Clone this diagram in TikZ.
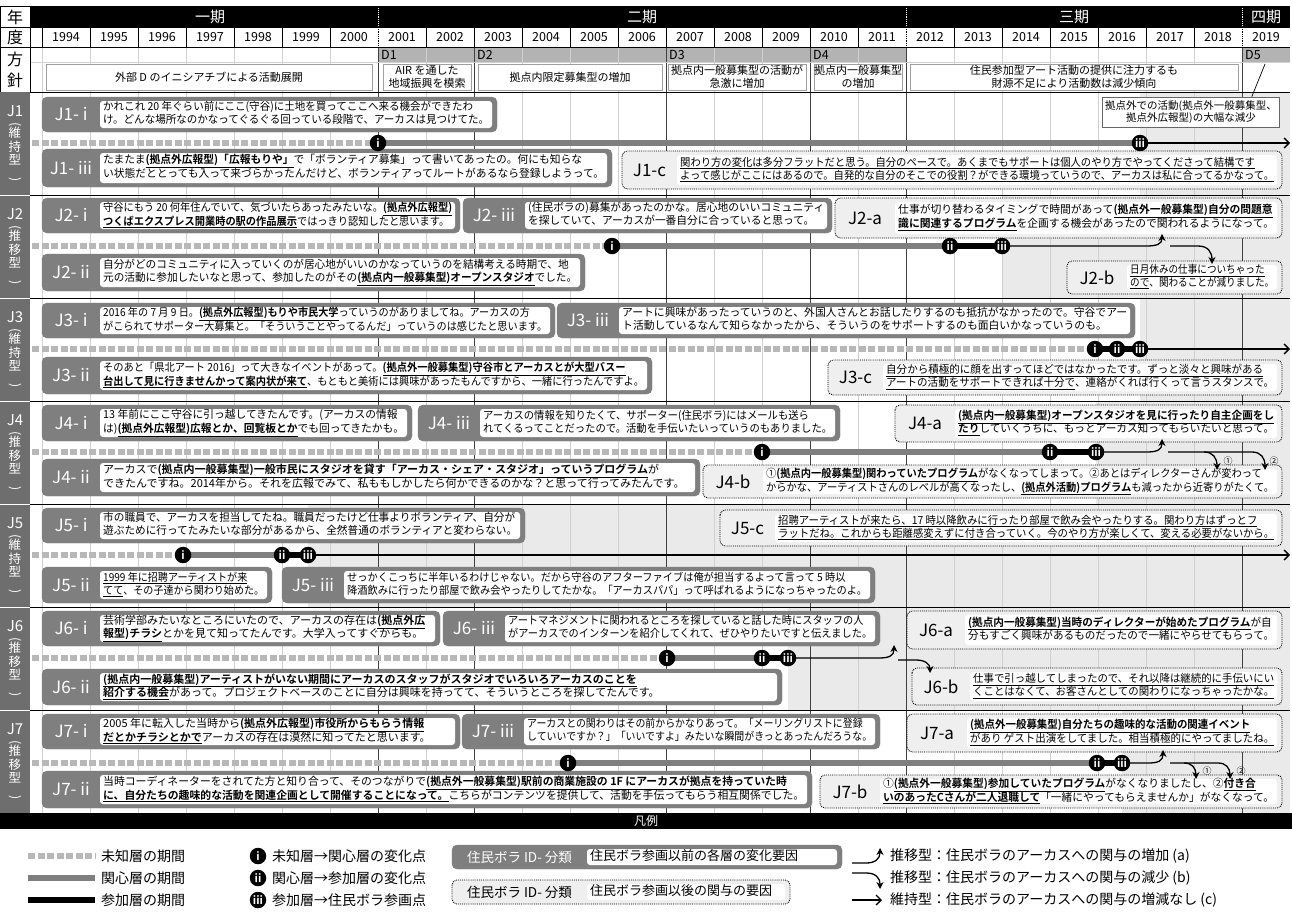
\documentclass[tikz,border=0pt]{standalone}
\usepackage{fontspec}
\setmainfont{Noto Sans CJK JP}[BoldFont={Noto Sans CJK JP Bold}]
\usepackage{graphicx}
\usetikzlibrary{arrows.meta}
\definecolor{qgray}{HTML}{7F7F7F}
\definecolor{qlight}{HTML}{EFEFEF}
\definecolor{shadec}{HTML}{EAEAEA}
\definecolor{labgray}{HTML}{6E6E6E}
\definecolor{drow}{HTML}{B3B3B3}
\definecolor{tdgray}{HTML}{B8B8B8}
\definecolor{gridc}{HTML}{D0D0D0}
\definecolor{boxline}{HTML}{A0A0A0}
\newsavebox\qsavebox
\newcommand\fitto[2]{\sbox\qsavebox{#2}\ifdim\wd\qsavebox>#1\relax\resizebox{#1}{\height}{\usebox\qsavebox}\else\usebox\qsavebox\fi}
\newcommand\UB[1]{\underline{\textbf{#1}}}
\newcommand\UL[1]{\underline{#1}}
\newcommand\twol[1]{\begin{tabular}{@{}l@{}}#1\end{tabular}}
% #1 s/d, #2 name, #3 x1, #4 y1, #5 x2, #6 y2, #7 label width, #8 label, #9 text
\newcommand\qbox[9]{%
  \pgfmathsetmacro\qmid{(#4+#6)/2}%
  \pgfmathsetmacro\qin{#3+#7}%
  \pgfmathsetmacro\qw{#5-5-\qin-6}%
  \path[q#1out] (#3,#4) rectangle (#5,#6);
  \path[qin] (\qin,#4+4) rectangle (#5-5,#6-4);
  \node[q#1lab] (#2l) at ({(#3+\qin)/2},\qmid) {#8};
  \node[qtxt,anchor=west] (#2) at (\qin+3,\qmid) {\fitto{\qw pt}{\twol{#9}}};
}
\newcommand\rowlab[4]{%
  \fill[labgray] (0,#2) rectangle (30,#2+103);
  \node[rowj] (#1) at (15,#2+19) {#3};
  \node[rowt,anchor=north] (#1t) at (15,#2+30) {\rotatebox{-90}{(}\\#4\\\rotatebox{-90}{)}};
}
\begin{document}
\begin{tikzpicture}[x=1pt,y=-1pt,
  qsout/.style={fill=qgray,draw=qgray,rounded corners=5pt},
  qdout/.style={fill=qlight,draw=black,densely dotted,line width=0.9pt,rounded corners=5pt},
  qin/.style={fill=white,rounded corners=3pt},
  qslab/.style={text=white,inner sep=0pt,font=\fontsize{17}{17}\selectfont},
  qdlab/.style={text=black,inner sep=0pt,font=\fontsize{17}{17}\selectfont},
  qtxt/.style={inner sep=0pt,font=\fontsize{11}{13}\selectfont},
  rowj/.style={text=white,inner sep=0pt,font=\fontsize{15}{15}\selectfont},
  rowt/.style={text=white,inner sep=0pt,align=center,font=\fontsize{12.5}{13.3}\selectfont},
  hdr/.style={inner sep=0pt,font=\fontsize{16}{16}\selectfont},
  per/.style={text=white,inner sep=0pt,font=\fontsize{15}{15}\selectfont},
  yr/.style={inner sep=0pt,font=\fontsize{12.5}{12.5}\selectfont},
  dl/.style={inner sep=0pt,anchor=west,font=\fontsize{12.5}{12.5}\selectfont},
  desc/.style={draw=boxline,line width=0.6pt,fill=white,inner sep=0pt,align=center,font=\fontsize{11}{12.5}\selectfont},
  gridl/.style={draw=gridc,line width=0.6pt},
  gridd/.style={draw=black!75,line width=0.9pt},
  sep/.style={draw=black,line width=1pt},
  tdash/.style={draw=tdgray,line width=6.5pt,dash pattern=on 7pt off 2.5pt},
  tgray/.style={draw=qgray,line width=6.5pt},
  tblack/.style={draw=black,line width=6.5pt},
  tthin/.style={draw=black,line width=1.3pt},
  endarr/.style={-{Straight Barb[length=5pt,width=10pt,line width=1.3pt]}},
  curarr/.style={-{Stealth[length=7pt,width=7pt]}},
  mk/.style={circle,fill=black,inner sep=0pt,minimum size=16.5pt,text=white,font=\fontsize{11}{11}\selectfont\bfseries},
  num/.style={inner sep=0pt,font=\fontsize{9}{9}\selectfont},
  lgt/.style={inner sep=0pt,anchor=west,font=\fontsize{14}{14}\selectfont},
  callout/.style={draw=black!60,line width=0.6pt,fill=white,align=center,inner sep=1pt,minimum width=177pt,minimum height=30pt,font=\fontsize{10.5}{12.5}\selectfont}
]
\useasboundingbox (0,0) rectangle (1292,913);
\fill[white] (0,0) rectangle (1292,913);

% ---------- row shading (after iii) ----------
\fill[shadec] (1140,92) rectangle (1290,195);
\fill[shadec] (1002,195) rectangle (1290,298);
\fill[shadec] (1140,298) rectangle (1290,401);
\fill[shadec] (1096,401) rectangle (1290,504);
\fill[shadec] (308,504) rectangle (1290,607);
\fill[shadec] (788,607) rectangle (1290,710);
\fill[shadec] (1122,710) rectangle (1290,813);

% ---------- header ----------
\fill[black] (30,6) rectangle (1290,27);
\fill[drow] (378,47) rectangle (906,62);
\fill[drow] (1242,47) rectangle (1290,62);
\foreach \k in {0,...,25} {\draw[gridl] ({42+48*\k},47) -- ({42+48*\k},813);}
\foreach \k in {0,...,25} {\draw[black,line width=0.6pt] ({42+48*\k},27) -- ({42+48*\k},47);}
\foreach \x in {378,906,1242} {\fill[white] (\x-1.5,27.5) rectangle (\x+1.5,46.5);
  \draw[black,line width=0.8pt,densely dotted] (\x,27) -- (\x,47);
  \draw[white,line width=0.9pt,densely dotted] (\x,6) -- (\x,27);}
\foreach \x in {378,474,666,810,906,1242} {\draw[gridd] (\x,47) -- (\x,813);}
\draw[black,line width=1pt] (0,6) -- (1290,6);
\draw[black,line width=0.8pt] (0,27) -- (1290,27);
\draw[black,line width=1pt] (0,47) -- (1290,47);
\draw[gridc,line width=0.6pt] (30,62) -- (1290,62);
\draw[black,line width=0.8pt] (0,6) rectangle (30,47);
\draw[black,line width=0.8pt] (0,47) rectangle (30,92);
\draw[black,line width=0.6pt] (30,27) -- (30,92);
\node[hdr] (hnen) at (15,17) {年};
\node[hdr] (hdo) at (15,37) {度};
\node[hdr] (hho) at (15,59) {方};
\node[hdr] (hshin) at (15,80) {針};
\node[per] (p1) at (210,17) {一期};
\node[per] (p2) at (642,17) {二期};
\node[per] (p3) at (1074,17) {三期};
\node[per] (p4) at (1266,17) {四期};
\foreach \y [count=\k from 0] in {1994,...,2019} {\node[yr] (y\y) at ({66+48*\k},37) {\y};}
\node[dl] (d1) at (381,55) {D1};
\node[dl] (d2) at (477,55) {D2};
\node[dl] (d3) at (669,55) {D3};
\node[dl] (d4) at (813,55) {D4};
\node[dl] (d5) at (1245,55) {D5};
\node[desc,minimum width=326pt,minimum height=26pt] (ds1) at (209,77) {外部 D のイニシアチブによる活動展開};
\node[desc,minimum width=88pt,minimum height=26pt] (ds2) at (427,77) {AIR を通した\\地域振興を模索};
\node[desc,minimum width=184pt,minimum height=26pt] (ds3) at (570,77) {拠点内限定募集型の増加};
\node[desc,minimum width=138pt,minimum height=26pt] (ds4) at (737,77) {拠点内一般募集型の活動が\\急激に増加};
\node[desc,minimum width=88pt,minimum height=26pt] (ds5) at (858,77) {拠点内一般募集型\\の増加};
\node[desc,minimum width=328pt,minimum height=26pt] (ds6) at (1074,77) {住民参加型アート活動の提供に注力するも\\財源不足により活動数は減少傾向};

% ---------- row separators and labels ----------
\foreach \t in {92,195,298,401,504,607,710} {\draw[sep] (0,\t) -- (1290,\t);}
\rowlab{r1}{92}{J1}{維\\持\\型}
\rowlab{r2}{195}{J2}{推\\移\\型}
\rowlab{r3}{298}{J3}{維\\持\\型}
\rowlab{r4}{401}{J4}{推\\移\\型}
\rowlab{r5}{504}{J5}{維\\持\\型}
\rowlab{r6}{607}{J6}{推\\移\\型}
\rowlab{r7}{710}{J7}{推\\移\\型}
\foreach \t in {195,298,401,504,607,710} {\draw[white,line width=1pt] (0,\t) -- (30,\t);}

% ---------- J1 ----------
\qbox{s}{j1i}{42}{97}{497}{132}{58}{J1- i}{かれこれ 20 年ぐらい前にここ(守谷)に土地を買ってここへ来る機会ができたわ\\け。どんな場所なのかなってぐるぐる回っている段階で、アーカスは見つけてた。}
\qbox{s}{j1iii}{42}{149}{612}{187}{58}{J1- iii}{たまたま\UB{(拠点外広報型)「広報もりや」}で「ボランティア募集」って書いてあったの。何にも知らな\\い状態だととっても入って来づらかったんだけど、ボランティアってルートがあるなら登録しようって。}
\qbox{d}{j1c}{622}{151}{1282}{189}{55}{J1-c}{\UL{関わり方の変化は多分フラットだと思う。自分のペースで。あくまでもサポートは個人のやり方でやってくださって結構です}\\\UL{よって感じがここにはあるので。自発的な自分のそこでの役割？ができる環境っていうので、アーカスは私に合ってるかなって。}}
\node[callout] (co) at (1191,112) {拠点外での活動(拠点外一般募集型、\\拠点外広報型)の大幅な減少};
\coordinate (slash) at (1265,64);
\draw[black,line width=0.7pt] ([xshift=-28pt]co.north east) -- (slash);
\coordinate (s1) at (32,143); \coordinate (a1) at (378,143); \coordinate (c1) at (1140,143); \coordinate (e1) at (1290,143);
\draw[tdash] (s1) -- (a1);
\draw[tgray] (a1) -- (c1);
\draw[tthin,endarr] (c1) -- (e1);
\node[mk] (m1a) at (a1) {i};
\node[mk] (m1c) at (c1) {iii};

% ---------- J2 ----------
\qbox{s}{j2i}{42}{198}{460}{233}{58}{J2- i}{守谷にもう 20 何年住んでいて、気づいたらあったみたいな。\UB{(拠点外広報型)}\\\UB{つくばエクスプレス開業時の駅の作品展示}ではっきり認知したと思います。}
\qbox{s}{j2iii}{463}{198}{832}{233}{62}{J2- iii}{(住民ボラの)募集があったのかな。居心地のいいコミュニティ\\を探していて、アーカスが一番自分に合っていると思って。}
\qbox{d}{j2a}{835}{198}{1282}{238}{60}{J2-a}{仕事が切り替わるタイミングで時間があって\UB{(拠点外一般募集型)自分の問題意}\\\UB{識に関連するプログラム}を企画する機会があったので関われるようになって。}
\qbox{s}{j2ii}{42}{254}{585}{291}{58}{J2- ii}{自分がどのコミュニティに入っていくのが居心地がいいのかなっていうのを結構考える時期で、地\\元の活動に参加したいなと思って、参加したのがその\UB{(拠点内一般募集型)オープンスタジオ}でした。}
\qbox{d}{j2b}{1067}{261}{1282}{294}{60}{J2-b}{\UL{日月休みの仕事についちゃった}\\\UL{ので}、関わることが減りました。}
\coordinate (s2) at (32,246); \coordinate (a2) at (612,246); \coordinate (b2) at (950,246); \coordinate (c2) at (1002,246);
\coordinate (k2) at (1146,246); \coordinate (u2) at (1162,234);
\coordinate (d2a) at (1170,246); \coordinate (d2b) at (1198,246); \coordinate (d2c) at (1212,264);
\draw[tdash] (s2) -- (a2);
\draw[tgray] (a2) -- (b2);
\draw[tblack] (b2) -- (c2);
\draw[tthin,curarr] (c2) -- (k2) .. controls (1157,246) and (1162,244) .. (u2);
\draw[tthin,curarr] (d2a) -- (d2b) .. controls (1208,246) and (1212,252) .. (d2c);
\node[mk] (m2a) at (a2) {i};
\node[mk] (m2b) at (b2) {ii};
\node[mk] (m2c) at (c2) {iii};

% ---------- J3 ----------
\qbox{s}{j3i}{42}{303}{555}{338}{58}{J3- i}{2016 年の 7 月 9 日。\UB{(拠点外広報型)もりや市民大学}っていうのがありましてね。アーカスの方\\がこられてサポーター大募集と。「そういうことやってるんだ」っていうのは感じたと思います。}
\qbox{s}{j3iii}{557}{303}{1135}{338}{62}{J3- iii}{アートに興味があったっていうのと、外国人さんとお話したりするのも抵抗がなかったので。守谷でアー\\ト活動しているなんて知らなかったから、そういうのをサポートするのも面白いかなっていうのも。}
\qbox{s}{j3ii}{42}{357}{652}{394}{58}{J3- ii}{そのあと「県北アート 2016」って大きなイベントがあって。\UB{(拠点外一般募集型)守谷市とアーカスとが大型バスー}\\\UB{台出して見に行きませんかって案内状が来て}、もともと美術には興味があったもんですから、一緒に行ったんですよ。}
\qbox{d}{j3c}{828}{360}{1282}{395}{55}{J3-c}{\UL{自分から積極的に顔を出すってほどではなかったです。ずっと淡々と興味がある}\\\UL{アートの活動をサポートできれば十分で}、連絡がくれば行くって言うスタンスで。}
\coordinate (s3) at (32,349); \coordinate (a3) at (1095,349); \coordinate (b3) at (1117,349); \coordinate (c3) at (1140,349); \coordinate (e3) at (1290,349);
\draw[tdash] (s3) -- (a3);
\draw[tblack] (a3) -- (c3);
\draw[tthin,endarr] (c3) -- (e3);
\node[mk] (m3a) at (a3) {i};
\node[mk] (m3b) at (b3) {ii};
\node[mk] (m3c) at (c3) {iii};

% ---------- J4 ----------
\qbox{s}{j4i}{42}{405}{412}{441}{58}{J4- i}{13 年前にここ守谷に引っ越してきたんです。(アーカスの情報\\は)\UB{(拠点外広報型)広報とか、回覧板とか}でも回ってきたかも。}
\qbox{s}{j4iii}{418}{405}{840}{441}{62}{J4- iii}{アーカスの情報を知りたくて、サポーター(住民ボラ)にはメールも送ら\\れてくるってことだったので。活動を手伝いたいっていうのもありました。}
\qbox{d}{j4a}{895}{405}{1282}{442}{60}{J4-a}{\UB{(拠点内一般募集型)オープンスタジオを見に行ったり自主企画をし}\\\UB{たり}していくうちに、もっとアーカス知ってもらいたいと思って。}
\qbox{s}{j4ii}{42}{459}{700}{496}{58}{J4- ii}{アーカスで\UB{(拠点内一般募集型)一般市民にスタジオを貸す「アーカス・シェア・スタジオ」っていうプログラム}が\\できたんですね。2014年から。それを広報でみて、私ももしかしたら何かできるのかな？と思って行ってみたんです。}
\qbox{d}{j4b}{703}{465}{1282}{498}{60}{J4-b}{①\UB{(拠点内一般募集型)関わっていたプログラム}がなくなってしまって。②あとはディレクターさんが変わって\\からかな、アーティストさんのレベルが高くなったし、\UB{(拠点外活動)プログラム}も減ったから近寄りがたくて。}
\coordinate (s4) at (32,452); \coordinate (a4) at (762,452); \coordinate (b4) at (1050,452); \coordinate (c4) at (1096,452);
\coordinate (k4) at (1146,452); \coordinate (u4) at (1162,439);
\coordinate (d4a) at (1168,452); \coordinate (d4b) at (1204,452); \coordinate (d4c) at (1217,470);
\coordinate (d4d) at (1252,452); \coordinate (d4e) at (1265,470);
\draw[tdash] (s4) -- (a4);
\draw[tgray] (a4) -- (b4);
\draw[tblack] (b4) -- (c4);
\draw[tthin,curarr] (c4) -- (k4) .. controls (1157,452) and (1162,450) .. (u4);
\draw[tthin,curarr] (d4a) -- (d4b) .. controls (1213,452) and (1217,458) .. (d4c);
\draw[tthin,curarr] (d4b) -- (d4d) .. controls (1261,452) and (1265,458) .. (d4e);
\node[num] (n41) at (1228,461) {①};
\node[num] (n42) at (1274,461) {②};
\node[mk] (m4a) at (a4) {i};
\node[mk] (m4b) at (b4) {ii};
\node[mk] (m4c) at (c4) {iii};

% ---------- J5 ----------
\qbox{s}{j5i}{42}{508}{525}{543}{58}{J5- i}{市の職員で、アーカスを担当してたね。職員だったけど仕事よりボランティア、自分が\\遊ぶために行ってたみたいな部分があるから、全然普通のボランティアと変わらない。}
\qbox{d}{j5c}{720}{510}{1282}{546}{55}{J5-c}{\UL{招聘アーティストが来たら、17 時以降飲みに行ったり部屋で飲み会やったりする。関わり方はずっとフ}\\\UL{ラットだね。これからも距離感変えずに付き合っていく。今のやり方が楽しくて、変える必要がないから。}}
\qbox{s}{j5ii}{42}{567}{272}{603}{58}{J5- ii}{\UL{1999 年に招聘アーティストが来}\\\UL{てて}、その子達から関わり始めた。}
\qbox{s}{j5iii}{282}{567}{875}{603}{62}{J5- iii}{せっかくこっちに半年いるわけじゃない。だから守谷のアフターファイブは俺が担当するよって言って 5 時以\\降酒飲みに行ったり部屋で飲み会やったりしてたかな。「アーカスパパ」って呼ばれるようになっちゃったのよ。}
\coordinate (s5) at (32,555); \coordinate (a5) at (183,555); \coordinate (b5) at (282,555); \coordinate (c5) at (308,555); \coordinate (e5) at (1290,555);
\draw[tdash] (s5) -- (a5);
\draw[tgray] (a5) -- (b5);
\draw[tblack] (b5) -- (c5);
\draw[tthin,endarr] (c5) -- (e5);
\node[mk] (m5a) at (a5) {i};
\node[mk] (m5b) at (b5) {ii};
\node[mk] (m5c) at (c5) {iii};

% ---------- J6 ----------
\qbox{s}{j6i}{42}{611}{440}{646}{58}{J6- i}{芸術学部みたいなところにいたので、アーカスの存在は\UB{(拠点外広}\\\UB{報型)チラシ}とかを見て知ってたんです。大学入ってすぐからも。}
\qbox{s}{j6iii}{443}{611}{880}{646}{62}{J6- iii}{アートマネジメントに関われるところを探していると話した時にスタッフの人\\がアーカスでのインターンを紹介してくれて、ぜひやりたいですと伝えました。}
\qbox{d}{j6a}{907}{611}{1282}{649}{58}{J6-a}{\UB{(拠点内一般募集型)当時のディレクターが始めたプログラム}が自\\分もすごく興味があるものだったので一緒にやらせてもらって。}
\qbox{s}{j6ii}{42}{669}{782}{705}{58}{J6- ii}{\UB{(拠点内一般募集型)アーティストがいない期間にアーカスのスタッフがスタジオでいろいろアーカスのことを}\\\UB{紹介する機会}があって。プロジェクトベースのことに自分は興味を持ってて、そういうところを探してたんです。}
\qbox{d}{j6b}{912}{668}{1282}{705}{58}{J6-b}{\UL{仕事で引っ越してしまったので、それ以降は継続的に手伝いにい}\\\UL{くことはなくて、お客さんとしての関わりになっちゃったかな。}}
\coordinate (s6) at (32,658); \coordinate (a6) at (667,658); \coordinate (b6) at (762,658); \coordinate (c6) at (788,658);
\coordinate (k6) at (878,658); \coordinate (u6) at (894,645);
\coordinate (d6a) at (898,660); \coordinate (d6b) at (916,660); \coordinate (d6c) at (930,673);
\draw[tdash] (s6) -- (a6);
\draw[tgray] (a6) -- (b6);
\draw[tblack] (b6) -- (c6);
\draw[tthin,curarr] (c6) -- (k6) .. controls (889,658) and (894,656) .. (u6);
\draw[tthin,curarr] (d6a) -- (d6b) .. controls (925,660) and (930,664) .. (d6c);
\node[mk] (m6a) at (a6) {i};
\node[mk] (m6b) at (b6) {ii};
\node[mk] (m6c) at (c6) {iii};

% ---------- J7 ----------
\qbox{s}{j7i}{42}{714}{460}{749}{58}{J7- i}{2005 年に転入した当時から\UB{(拠点外広報型)市役所からもらう情報}\\\UB{だとかチラシとかで}アーカスの存在は漠然に知ってたと思います。}
\qbox{s}{j7iii}{462}{714}{880}{749}{62}{J7- iii}{アーカスとの関わりはその前からかなりあって。「メーリングリストに登録\\していいですか？」「いいですよ」みたいな瞬間がきっとあったんだろうな。}
\qbox{d}{j7a}{907}{714}{1282}{752}{60}{J7-a}{\UB{(拠点外一般募集型)自分たちの趣味的な活動の関連イベント}\\\UL{があり ゲスト出演をしてました。相当積極的にやってましたね。}}
\qbox{s}{j7ii}{42}{771}{812}{808}{58}{J7- ii}{当時コーディネーターをされてた方と知り合って、そのつながりで\UB{(拠点外一般募集型)駅前の商業施設の 1F にアーカスが拠点を持っていた時}\\\UB{に、自分たちの趣味的な活動を関連企画として開催することになって。}こちらがコンテンツを提供して、活動を手伝ってもらう相互関係でした。}
\qbox{d}{j7b}{820}{775}{1282}{808}{60}{J7-b}{①\UB{(拠点外一般募集型)参加していたプログラム}がなくなりましたし、②\UB{付き合}\\\UB{いのあったCさんが二人退職して}「一緒にやってもらえませんか」がなくなって。}
\coordinate (s7) at (32,763); \coordinate (a7) at (568,763); \coordinate (b7) at (1097,763); \coordinate (c7) at (1122,763);
\coordinate (k7) at (1148,763); \coordinate (u7) at (1163,750);
\coordinate (d7a) at (1170,763); \coordinate (d7b) at (1184,763); \coordinate (d7c) at (1196,779);
\coordinate (d7d) at (1218,763); \coordinate (d7e) at (1230,779);
\draw[tdash] (s7) -- (a7);
\draw[tgray] (a7) -- (b7);
\draw[tblack] (b7) -- (c7);
\draw[tthin,curarr] (c7) -- (k7) .. controls (1158,763) and (1163,761) .. (u7);
\draw[tthin,curarr] (d7a) -- (d7b) .. controls (1192,763) and (1196,768) .. (d7c);
\draw[tthin,curarr] (d7b) -- (d7d) .. controls (1226,763) and (1230,768) .. (d7e);
\node[num] (n71) at (1207,771) {①};
\node[num] (n72) at (1241,771) {②};
\node[mk] (m7a) at (a7) {i};
\node[mk] (m7b) at (b7) {ii};
\node[mk] (m7c) at (c7) {iii};

% ---------- legend ----------
\fill[black] (0,813) rectangle (1292,829);
\node[text=white,inner sep=0pt,font=\fontsize{12}{12}\selectfont] (hanrei) at (646,821) {凡例};
\coordinate (lgd1) at (28,856); \coordinate (lgd2) at (95,856);
\coordinate (lgg1) at (28,878); \coordinate (lgg2) at (95,878);
\coordinate (lgb1) at (28,900); \coordinate (lgb2) at (95,900);
\draw[tdash] (lgd1) -- (lgd2);
\draw[tgray] (lgg1) -- (lgg2);
\draw[tblack] (lgb1) -- (lgb2);
\node[lgt] (lt1) at (101,856) {未知層の期間};
\node[lgt] (lt2) at (101,878) {関心層の期間};
\node[lgt] (lt3) at (101,900) {参加層の期間};
\node[mk] (lm1) at (258,856) {i};
\node[mk] (lm2) at (258,878) {ii};
\node[mk] (lm3) at (258,900) {iii};
\node[lgt] (lt4) at (272,856) {未知層→関心層の変化点};
\node[lgt] (lt5) at (272,878) {関心層→参加層の変化点};
\node[lgt] (lt6) at (272,900) {参加層→住民ボラ参画点};
\qbox{s}{lgs}{452}{845}{842}{869}{135}{\fontsize{13.5}{14}\selectfont 住民ボラ ID- 分類}{\fontsize{13}{14}\selectfont 住民ボラ参画以前の各層の変化要因}
\qbox{d}{lgdb}{452}{880}{790}{904}{135}{\fontsize{13.5}{14}\selectfont 住民ボラ ID- 分類}{\fontsize{13}{14}\selectfont 住民ボラ参画以後の関与の要因}
\coordinate (la1) at (852,863); \coordinate (la2) at (866,863); \coordinate (la3) at (880,848);
\coordinate (lb1) at (852,873); \coordinate (lb2) at (866,873); \coordinate (lb3) at (880,889);
\coordinate (lc1) at (852,900); \coordinate (lc2) at (882,900);
\draw[tthin,curarr] (la1) -- (la2) .. controls (875,863) and (880,859) .. (la3);
\draw[tthin,curarr] (lb1) -- (lb2) .. controls (875,873) and (880,877) .. (lb3);
\draw[tthin,endarr] (lc1) -- (lc2);
\node[lgt] (lt7) at (890,856) {推移型：住民ボラのアーカスへの関与の増加 (a)};
\node[lgt] (lt8) at (890,878) {推移型：住民ボラのアーカスへの関与の減少 (b)};
\node[lgt] (lt9) at (890,900) {維持型：住民ボラのアーカスへの関与の増減なし (c)};
\end{tikzpicture}
\end{document}
